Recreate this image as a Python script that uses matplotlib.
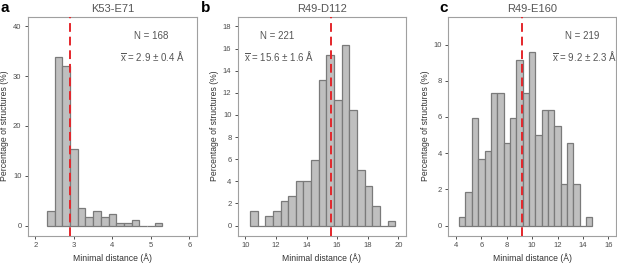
import matplotlib
matplotlib.use("Agg")
import matplotlib.pyplot as plt
import numpy as np

# ==========================================
# DATA
# ==========================================

titles = ["K53-E71", "R49-D112", "R49-E160"]
letters = ["a", "b", "c"]
n_structures = [168, 221, 219]
mean_text = ["2.9 \u00b1 0.4 \u00c5", "15.6 \u00b1 1.6 \u00c5", "9.2 \u00b1 2.3 \u00c5"]
mean_values = [2.9, 15.6, 9.2]

bin_start = [2.3, 10.3, 4.25]
bin_width = [0.2, 0.5, 0.5]

counts_a = [5, 57, 54, 26, 6, 3, 5, 3, 4, 1, 1, 2, 0, 0, 1]
counts_b = [3, 0, 2, 3, 5, 6, 9, 9, 13, 29, 34, 25, 36, 23, 11, 8, 4, 0, 1]
counts_c = [1, 4, 13, 8, 9, 16, 16, 10, 13, 20, 16, 21, 11, 14, 14, 12, 5, 10, 5, 0, 1]

x_ticks = [[2, 3, 4, 5, 6], [10, 12, 14, 16, 18, 20], [4, 6, 8, 10, 12, 14, 16]]
y_ticks = [[0, 10, 20, 30, 40], [0, 2, 4, 6, 8, 10, 12, 14, 16, 18], [0, 2, 4, 6, 8, 10]]
x_range = [(2, 6), (10, 20), (4, 16)]
y_range = [(0, 40), (0, 18), (0, 11)]

# ==========================================
# STYLE
# ==========================================

plt.rcParams["font.family"] = ["Liberation Sans", "DejaVu Sans"]
plt.rcParams["mathtext.fontset"] = "custom"
plt.rcParams["mathtext.rm"] = "Liberation Sans"
plt.rcParams["mathtext.it"] = "Liberation Sans:italic"

fig = plt.figure(figsize=(6.17, 2.64), dpi=100)
W, H = 617.0, 264.0

# axes boxes in pixels: left, right
boxes = [(27.7, 197.0), (237.7, 406.0), (448.3, 616.0)]
top_px, bottom_px = 16.5, 235.5

text_x = [0.727, 0.235, 0.80]

all_counts = [counts_a, counts_b, counts_c]

for i in range(3):
    l, r = boxes[i]
    ax = fig.add_axes([l / W, 1 - bottom_px / H, (r - l) / W, (bottom_px - top_px) / H])

    counts = np.array(all_counts[i])
    perc = counts / n_structures[i] * 100
    lefts = bin_start[i] + bin_width[i] * np.arange(len(counts))

    ax.bar(lefts, perc, width=bin_width[i], align="edge",
           color="#bfbfbf", edgecolor="#7a7a7a", linewidth=0.9, zorder=2)
    ax.axvline(mean_values[i], color="#e4262b", linestyle=(0, (4.5, 2.5)),
               linewidth=1.4, zorder=3)

    x0, x1 = x_range[i]
    y0, y1 = y_range[i]
    ax.set_xlim(x0 - 0.05 * (x1 - x0), x1 + 0.05 * (x1 - x0))
    ax.set_ylim(y0 - 0.05 * (y1 - y0), y1 + 0.05 * (y1 - y0))
    ax.set_xticks(x_ticks[i])
    ax.set_yticks(y_ticks[i])

    for s in ax.spines.values():
        s.set_color("#a0a0a0")
        s.set_linewidth(0.8)
    ax.tick_params(length=2.5, width=0.6, color="#333333",
                   labelsize=5.5, labelcolor="#4d4d4d", pad=2)

    ax.set_xlabel("Minimal distance (\u00c5)", fontsize=6.2, color="#333333", labelpad=3)
    ax.set_ylabel("Percentage of structures (%)", fontsize=6.2, color="#333333", labelpad=3)
    ax.set_title(titles[i], fontsize=8, color="#555555", pad=3)

    ax.text(text_x[i], 0.912, "N = %d" % n_structures[i], transform=ax.transAxes,
            ha="center", va="center", fontsize=7, color="#555555")
    ax.text(text_x[i] + 0.01, 0.817, r"$\overline{\mathrm{x}}$ = " + mean_text[i],
            transform=ax.transAxes, ha="center", va="center", fontsize=7, color="#555555")

letter_x = [5, 206, 444]
for i in range(3):
    fig.text(letter_x[i] / W, 1 - 8 / H, letters[i], fontsize=11, fontweight="bold",
             ha="center", va="center", color="black")

plt.savefig("out.png", dpi=100)
plt.close()
